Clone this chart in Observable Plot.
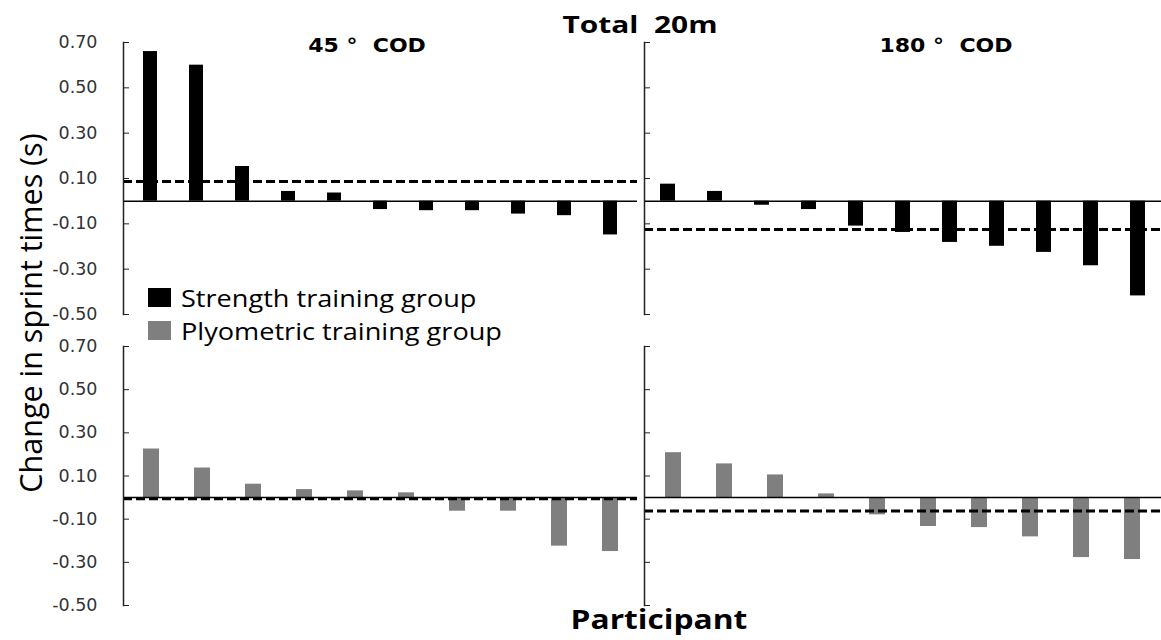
<!DOCTYPE html>
<html><head><meta charset="utf-8">
<script src="https://cdn.jsdelivr.net/npm/d3@7"></script>
<script src="https://cdn.jsdelivr.net/npm/@observablehq/plot@0.6"></script>
<style>
body{margin:0;background:#fff;}
#wrap{position:relative;width:1161px;height:640px;overflow:hidden;background:#fff;}
#wrap svg{position:absolute;left:0;top:0;}
.t{position:absolute;white-space:pre;color:#000;line-height:1;}
.sw{position:absolute;width:23px;height:19px;}
</style></head><body><div id="wrap"></div>
<script>
// Change in 20m sprint time (s), per participant
const strength45 = [0.66, 0.60, 0.153, 0.043, 0.036, -0.037, -0.042, -0.042, -0.057, -0.064, -0.149];
const strength180 = [0.075, 0.043, -0.018, -0.037, -0.11, -0.138, -0.182, -0.199, -0.226, -0.285, -0.418];
const plyo45 = [0.225, 0.137, 0.062, 0.037, 0.031, 0.022, -0.063, -0.063, -0.225, -0.25];
const plyo180 = [0.208, 0.156, 0.105, 0.017, -0.08, -0.134, -0.139, -0.182, -0.278, -0.287];
// group means (dashed lines): [45° COD, 180° COD]
const meanStrength = [0.087, -0.125];
const meanPlyo = [-0.005, -0.062];
const yTicks = [-0.5, -0.3, -0.1, 0.1, 0.3, 0.5, 0.7];
const groupNames = ["Strength training group", "Plyometric training group"];
const groupColors = ["#000000", "#7f7f7f"];
const panelTitles = ["45 °  COD", "180 °  COD"];

const W = 1161, H = 640;
const wrap = document.getElementById("wrap");

function panel(values, mean, fill, box, labels) {
  const data = values.map((v, i) => ({p: i + 1, v}));
  return Plot.plot({
    width: W, height: H,
    marginLeft: box.left, marginRight: W - box.right,
    marginTop: box.top, marginBottom: H - box.bottom,
    style: {background: "transparent", fontFamily: "DejaVu Sans", fontSize: "17.5px", color: "#333"},
    x: {type: "band", domain: data.map(d => d.p), paddingInner: 0.69, paddingOuter: 0.345, axis: null},
    y: {domain: [-0.5, 0.7], axis: null},
    marks: [
      Plot.barY(data, {x: "p", y: "v", fill}),
      Plot.ruleY([0], {stroke: "#000", strokeWidth: 1.5}),
      Plot.ruleY([mean], {stroke: "#000", strokeWidth: 3, strokeDasharray: "9,4"}),
      Plot.frame({anchor: "left", stroke: "#222", strokeWidth: 1.5}),
      Plot.axisY(yTicks, {anchor: "left", tickSize: -6, tickPadding: 32, stroke: "#222",
        tickFormat: labels ? (d => d.toFixed(2)) : (() => ""), fill: "#333", fontSize: 17.5, label: null})
    ]
  });
}

wrap.append(panel(strength45, meanStrength[0], groupColors[0], {left: 123, right: 637, top: 42, bottom: 314}, true));
wrap.append(panel(strength180, meanStrength[1], groupColors[0], {left: 644, right: 1161, top: 42, bottom: 314}, false));
wrap.append(panel(plyo45, meanPlyo[0], groupColors[1], {left: 123, right: 637, top: 346, bottom: 605}, true));
wrap.append(panel(plyo180, meanPlyo[1], groupColors[1], {left: 644, right: 1161, top: 346, bottom: 605}, false));

function text(str, css) {
  const d = document.createElement("div");
  d.className = "t";
  d.textContent = str;
  Object.assign(d.style, css);
  wrap.append(d);
  return d;
}
text("Total  20m", {left: "640px", top: "24px", transform: "translate(-50%,-50%) scaleX(1.3)", font: "bold 23px 'Open Sans'"});
text(panelTitles[0], {left: "367px", top: "45px", transform: "translate(-50%,-50%) scaleX(1.1)", font: "bold 20px 'DejaVu Sans'"});
text(panelTitles[1], {left: "946px", top: "45px", transform: "translate(-50%,-50%) scaleX(1.1)", font: "bold 20px 'DejaVu Sans'"});
text("Participant", {left: "659px", top: "619px", transform: "translate(-50%,-50%) scaleX(1.22)", font: "bold 26px 'Open Sans'"});
text("Change in sprint times (s)", {left: "30px", top: "313px", transform: "translate(-50%,-50%) rotate(-90deg)", font: "30.5px 'Open Sans'"});

groupNames.forEach((name, i) => {
  const y = 297 + i * 33;
  const sw = document.createElement("div");
  sw.className = "sw";
  Object.assign(sw.style, {left: "148px", top: (y - 9) + "px", background: groupColors[i]});
  wrap.append(sw);
  text(name, {left: "181px", top: y + "px", transform: "translateY(-50%) scaleX(1.13)", transformOrigin: "left center", font: "24px 'Open Sans'"});
});
</script></body></html>
